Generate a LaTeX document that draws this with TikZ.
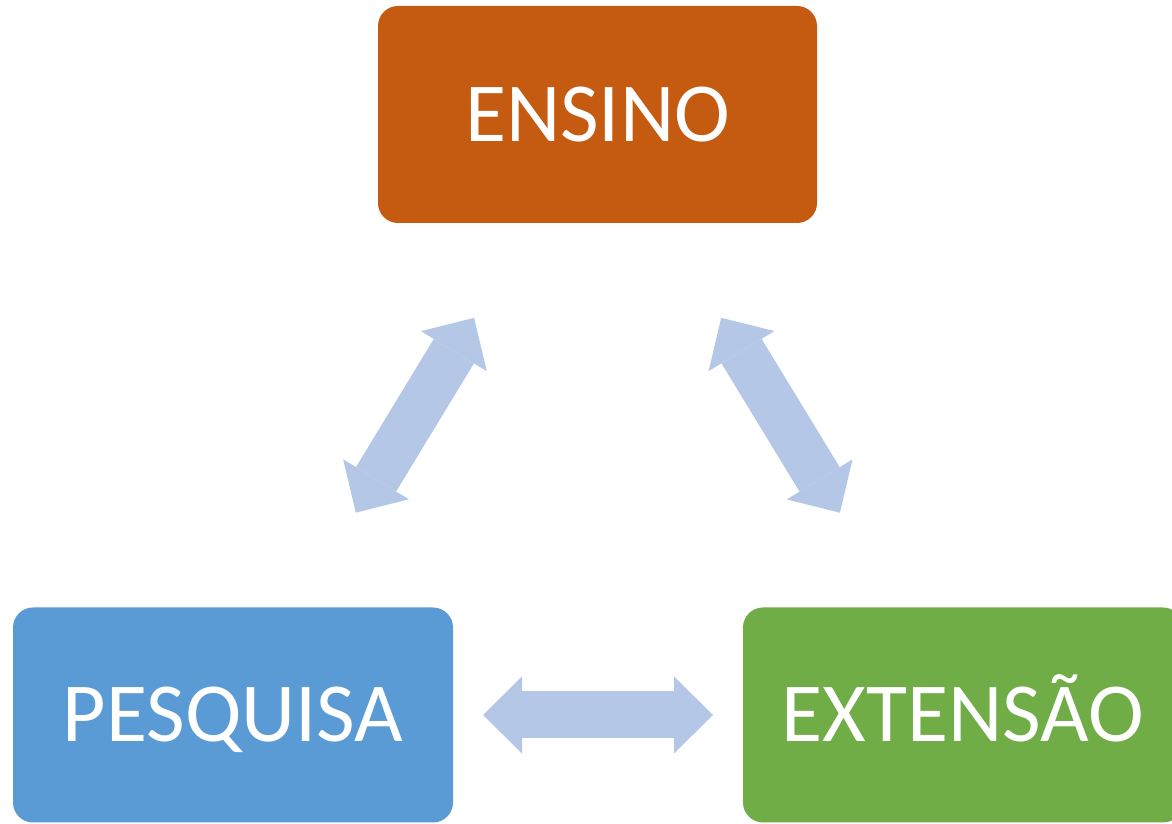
\documentclass[tikz,border=0pt]{standalone}
\usepackage{fontspec}
\setmainfont{Carlito}
\usetikzlibrary{arrows.meta}
\definecolor{ensinoC}{HTML}{C55A11}
\definecolor{pesqC}{HTML}{5B9BD5}
\definecolor{extC}{HTML}{70AD47}
\definecolor{arrowC}{HTML}{B4C7E7}
\tikzset{
  box/.style={rounded corners=20pt, minimum width=440pt, minimum height=215pt,
    outer sep=0pt, inner sep=0pt, text=white, text height=54pt, text depth=0pt,
    font=\fontsize{84}{100}\selectfont},
  blocktip/.style={Triangle[length=39pt,width=77pt,line width=0pt]},
  dblarrow/.style={draw=arrowC, line width=47pt, {Triangle[length=39pt,width=77pt,line width=0pt]}-{Triangle[length=39pt,width=77pt,line width=0pt]}}
}
\begin{document}
\begin{tikzpicture}[x=1pt,y=1pt]
\clip (0,0) rectangle (1172,824);
\fill[white] (0,0) rectangle (1172,824);
\node[box, fill=ensinoC, minimum height=217pt, minimum width=439pt] (ens) at (597.5,709.5) {ENSINO};
\node[box, fill=pesqC] (pesq) at (233,109) {PESQUISA};
\node[box, fill=extC] (ext) at (963,109) {EXTENSÃO};
\draw[dblarrow, shorten <=111pt, shorten >=111pt] (pesq) -- (ens);
\draw[dblarrow, shorten <=111pt, shorten >=111pt] (ext) -- (ens);
\draw[dblarrow, shorten <=30pt, shorten >=30pt] (pesq) -- (ext);
\end{tikzpicture}
\end{document}
